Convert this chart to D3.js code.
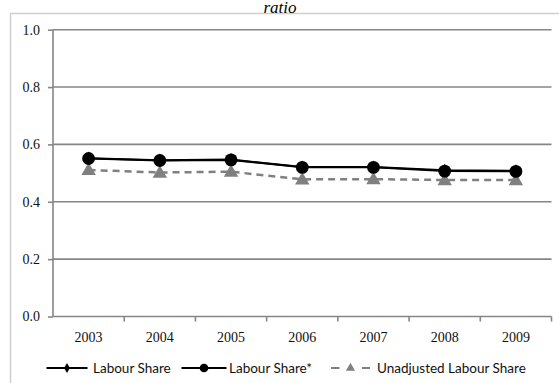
<!DOCTYPE html>
<html>
<head>
<meta charset="utf-8">
<script src="https://cdn.jsdelivr.net/npm/d3@7"></script>
<style>
  html, body { margin: 0; padding: 0; background: #fff; }
  svg { display: block; }
</style>
</head>
<body>
<svg id="chart" width="559" height="383"></svg>
<script>
// Years on the category axis
const years = ["2003", "2004", "2005", "2006", "2007", "2008", "2009"];
// Series values (ratio)
const labourShare = [0.552, 0.545, 0.547, 0.521, 0.521, 0.510, 0.508];
const labourShareStar = [0.551, 0.544, 0.546, 0.520, 0.520, 0.507, 0.506];
const unadjustedShare = [0.511, 0.502, 0.505, 0.478, 0.479, 0.476, 0.476];
// Value axis ticks
const yTicks = [0.0, 0.2, 0.4, 0.6, 0.8, 1.0];
const legendLabels = ["Labour Share", "Labour Share*", "Unadjusted Labour Share"];

const svg = d3.select("#chart");
const gridColor = "#868686";
const serif = "Liberation Serif, Times New Roman, serif";

// Chart frame
svg.append("path")
  .attr("d", "M10.5,383 V13.5 H559")
  .attr("fill", "none")
  .attr("stroke", "#cfcfcf")
  .attr("stroke-width", 1.5);

// Title
svg.append("text")
  .attr("x", 280).attr("y", 13)
  .attr("text-anchor", "middle")
  .style("font-family", serif)
  .style("font-style", "italic")
  .style("font-size", "17px")
  .attr("fill", "#000")
  .text("ratio");

const x = d3.scaleBand().domain(years).range([53, 551.5]);
const y = d3.scaleLinear().domain([0, 1]).range([316.5, 29.7]);

// Horizontal gridlines
svg.append("g")
  .selectAll("line")
  .data(yTicks.filter(d => d > 0))
  .join("line")
  .attr("x1", 53).attr("x2", 551.5)
  .attr("y1", d => y(d)).attr("y2", d => y(d))
  .attr("stroke", gridColor)
  .attr("stroke-width", 1.6);

// Y axis
const yAxis = svg.append("g")
  .attr("transform", "translate(53,0)")
  .call(d3.axisLeft(y).tickValues(yTicks).tickFormat(d3.format(".1f")).tickSize(5).tickPadding(8));
yAxis.attr("font-family", null).attr("font-size", null);
yAxis.select(".domain").attr("stroke", gridColor).attr("stroke-width", 1.6).attr("d", `M0,${y(0)}V${y(1)}`);
yAxis.selectAll(".tick line").attr("stroke", gridColor).attr("stroke-width", 1.6);
yAxis.selectAll(".tick text")
  .style("font-family", serif)
  .style("font-size", "14px")
  .attr("fill", "#111");

// X axis with ticks at category boundaries
const xAxis = svg.append("g").attr("transform", `translate(0,${y(0)})`);
xAxis.append("line")
  .attr("x1", 53).attr("x2", 551.5)
  .attr("stroke", gridColor).attr("stroke-width", 1.6);
const bounds = years.map(d => x(d) + x.bandwidth());
xAxis.selectAll(".bt")
  .data(bounds)
  .join("line")
  .attr("class", "bt")
  .attr("x1", d => d).attr("x2", d => d)
  .attr("y1", 0).attr("y2", 5)
  .attr("stroke", gridColor).attr("stroke-width", 1.6);
xAxis.selectAll("text")
  .data(years)
  .join("text")
  .attr("x", d => x(d) + x.bandwidth() / 2)
  .attr("y", 25.5)
  .attr("text-anchor", "middle")
  .style("font-family", serif)
  .style("font-size", "14px")
  .attr("fill", "#111")
  .text(d => d);

const cx = (d, i) => x(years[i]) + x.bandwidth() / 2;
const line = vals => d3.line().x((d, i) => cx(d, i)).y(d => y(d))(vals);

const tri = d3.symbol().type(d3.symbolTriangle).size(90);
const circ = d3.symbol().type(d3.symbolCircle).size(130);
const diam = d3.symbol().type(d3.symbolDiamond).size(50);

// Unadjusted labour share: grey dashed with triangles
svg.append("path")
  .attr("d", line(unadjustedShare))
  .attr("fill", "none")
  .attr("stroke", "#808080")
  .attr("stroke-width", 2.5)
  .attr("stroke-dasharray", "7,5");
svg.append("g").selectAll("path")
  .data(unadjustedShare)
  .join("path")
  .attr("transform", (d, i) => `translate(${cx(d, i)},${y(d) + 1})`)
  .attr("d", tri())
  .attr("fill", "#808080");

// Labour share: black with diamonds
svg.append("path")
  .attr("d", line(labourShare))
  .attr("fill", "none")
  .attr("stroke", "#000")
  .attr("stroke-width", 2);
svg.append("g").selectAll("path")
  .data(labourShare)
  .join("path")
  .attr("transform", (d, i) => `translate(${cx(d, i)},${y(d)})`)
  .attr("d", diam())
  .attr("fill", "#000");

// Labour share*: black with circles
svg.append("path")
  .attr("d", line(labourShareStar))
  .attr("fill", "none")
  .attr("stroke", "#000")
  .attr("stroke-width", 2);
svg.append("g").selectAll("path")
  .data(labourShareStar)
  .join("path")
  .attr("transform", (d, i) => `translate(${cx(d, i)},${y(d)})`)
  .attr("d", circ())
  .attr("fill", "#000");

// Legend
const ly = 368;
const legendFont = "Lato, 'Open Sans', sans-serif";
const legend = svg.append("g");
const items = [
  { x0: 46.5, x1: 87.5, text: 93, dash: null, color: "#000", sym: d3.symbol().type(d3.symbolDiamond).size(30)() },
  { x0: 181.5, x1: 226.5, text: 229, dash: null, color: "#000", sym: d3.symbol().type(d3.symbolCircle).size(60)() },
  { x0: 331, x1: 370, text: 377, dash: "8.5,22.5", color: "#808080", sym: d3.symbol().type(d3.symbolTriangle).size(36)() }
];
items.forEach((it, i) => {
  legend.append("line")
    .attr("x1", it.x0).attr("x2", it.x1)
    .attr("y1", ly).attr("y2", ly)
    .attr("stroke", it.color)
    .attr("stroke-width", 2)
    .attr("stroke-dasharray", it.dash);
  legend.append("path")
    .attr("transform", `translate(${(it.x0 + it.x1) / 2},${ly})`)
    .attr("d", it.sym)
    .attr("fill", it.color);
  legend.append("text")
    .attr("x", it.text).attr("y", ly + 4.5)
    .style("font-family", legendFont)
    .style("font-size", "13.5px")
    .attr("fill", "#111")
    .text(legendLabels[i]);
});
</script>
</body>
</html>
